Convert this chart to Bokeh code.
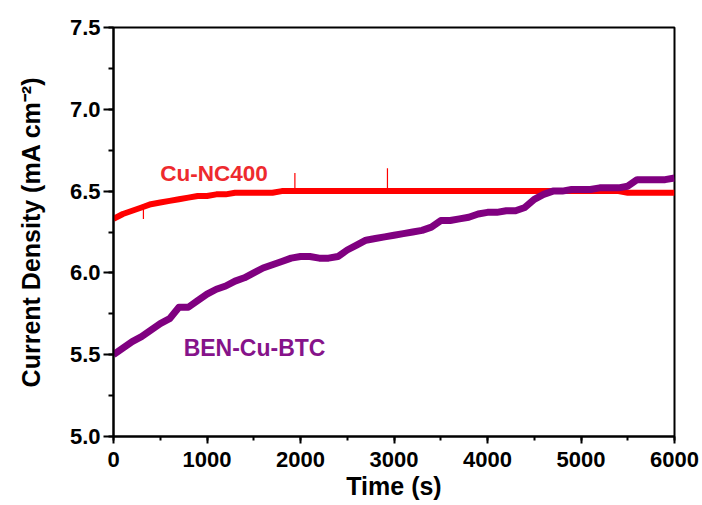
from bokeh.plotting import figure
from bokeh.models import Range1d, SingleIntervalTicker, PrintfTickFormatter
from bokeh.core.properties import value
from bokeh.embed import file_html
from bokeh.resources import INLINE

# Time axis (s) sampled every 100 s
time_s = [i * 100 for i in range(61)]

# BEN-Cu-BTC current density (mA cm^-2)
ben_cu_btc = [
    5.50, 5.54, 5.58, 5.61, 5.65, 5.69, 5.72, 5.79, 5.79, 5.83,
    5.87, 5.90, 5.92, 5.95, 5.97, 6.00, 6.03, 6.05, 6.07, 6.09,
    6.10, 6.10, 6.09, 6.09, 6.10, 6.14, 6.17, 6.20, 6.21, 6.22,
    6.23, 6.24, 6.25, 6.26, 6.28, 6.32, 6.32, 6.33, 6.34, 6.36,
    6.37, 6.37, 6.38, 6.38, 6.40, 6.45, 6.48, 6.50, 6.50, 6.51,
    6.51, 6.51, 6.52, 6.52, 6.52, 6.53, 6.57, 6.57, 6.57, 6.57,
    6.58,
]

# Cu-NC400 current density (mA cm^-2)
cu_nc400 = [
    6.33, 6.36, 6.38, 6.40, 6.42, 6.43, 6.44, 6.45, 6.46, 6.47,
    6.47, 6.48, 6.48, 6.49, 6.49, 6.49, 6.49, 6.49, 6.50, 6.50,
    6.50, 6.50, 6.50, 6.50, 6.50, 6.50, 6.50, 6.50, 6.50, 6.50,
    6.50, 6.50, 6.50, 6.50, 6.50, 6.50, 6.50, 6.50, 6.50, 6.50,
    6.50, 6.50, 6.50, 6.50, 6.50, 6.50, 6.50, 6.50, 6.50, 6.50,
    6.50, 6.50, 6.50, 6.50, 6.50, 6.49, 6.49, 6.49, 6.49, 6.49,
    6.49,
]

# Visible spikes on the Cu-NC400 trace
spike_t = [1940, 2930, 320]
spike_lo = [6.50, 6.50, 6.33]
spike_hi = [6.61, 6.64, 6.40]

# Labels
label_names = ["Cu-NC400", "BEN-Cu-BTC"]
label_t = [500, 750]
label_y = [6.61, 5.54]

p = figure(width=702, height=505, output_backend="svg", toolbar_location=None,
           x_range=Range1d(0, 6000), y_range=Range1d(5.0, 7.5),
           min_border_left=113, min_border_right=28, min_border_top=27,
           min_border_bottom=69)

p.grid.visible = False
p.outline_line_color = "black"
p.outline_line_width = 2
p.background_fill_color = "white"
p.border_fill_color = "white"

p.line(time_s, cu_nc400, line_color="#ff0000", line_width=6, line_join="round")
p.segment(x0=spike_t, y0=spike_lo, x1=spike_t, y1=spike_hi, line_color="#ff0000", line_width=1.2)
p.line(time_s, ben_cu_btc, line_color="#800080", line_width=7, line_join="round")

p.text(x=[label_t[0]], y=[label_y[0]], text=[label_names[0]], text_color="#ee2a2e",
       text_font=value("Liberation Sans"), text_font_style="bold", text_font_size="22.5px",
       text_baseline="alphabetic")
p.text(x=[label_t[1]], y=[label_y[1]], text=[label_names[1]], text_color="#86138a",
       text_font=value("Liberation Sans"), text_font_style="bold", text_font_size="23px",
       text_baseline="alphabetic")

p.xaxis.ticker = SingleIntervalTicker(interval=1000, num_minor_ticks=2)
p.yaxis.ticker = SingleIntervalTicker(interval=0.5, num_minor_ticks=2)
p.yaxis.formatter = PrintfTickFormatter(format="%.1f")

for ax in (p.xaxis[0], p.yaxis[0]):
    ax.axis_line_color = "black"
    ax.axis_line_width = 2
    ax.major_tick_line_color = "black"
    ax.major_tick_line_width = 2
    ax.minor_tick_line_color = "black"
    ax.minor_tick_line_width = 2
    ax.major_tick_in = 0
    ax.minor_tick_in = 0
    ax.major_label_text_font = "Liberation Sans"
    ax.major_label_text_font_style = "bold"
    ax.major_label_text_font_size = "22px"
    ax.major_label_text_color = "black"
    ax.axis_label_text_font = "Liberation Sans"
    ax.axis_label_text_font_style = "bold"
    ax.axis_label_text_font_size = "25px"
    ax.axis_label_text_color = "black"

p.xaxis.major_tick_out = 7
p.xaxis.minor_tick_out = 4
p.yaxis.major_tick_out = 10
p.yaxis.minor_tick_out = 5
p.xaxis.major_label_standoff = 8
p.yaxis.major_label_standoff = 3
p.xaxis.axis_label = "Time (s)"
p.yaxis.axis_label = "Current Density (mA cm\u207B\u00B2)"
p.xaxis.axis_label_standoff = 2
p.yaxis.axis_label_standoff = 22

open("out.html", "w").write(file_html(p, INLINE))
